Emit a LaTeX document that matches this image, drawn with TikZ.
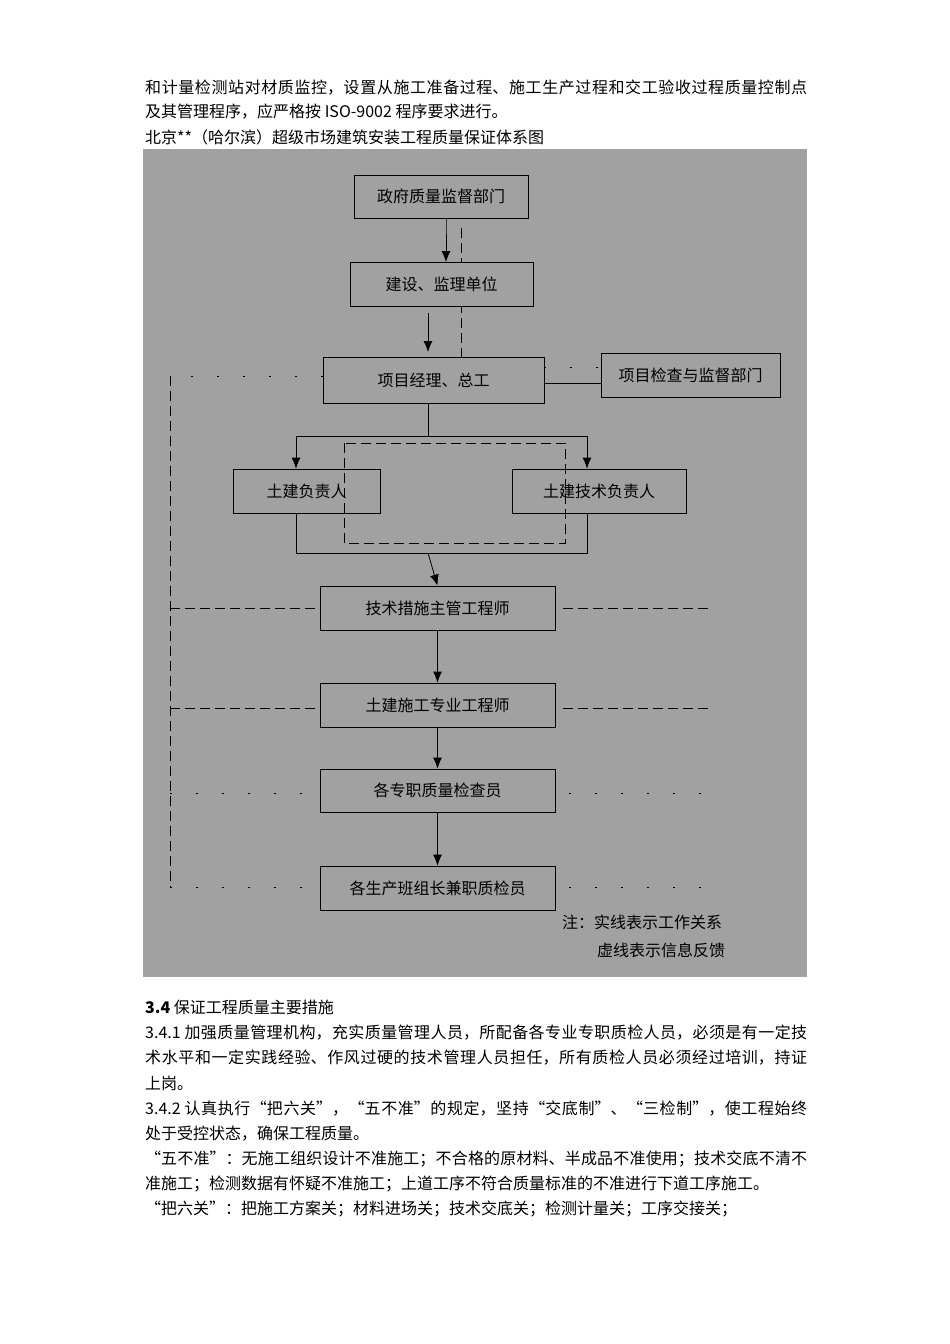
\documentclass[tikz,border=0pt]{standalone}
\usepackage{fontspec}
\setmainfont{Noto Sans CJK SC}
\usetikzlibrary{arrows.meta}
\XeTeXlinebreaklocale "zh"
\XeTeXlinebreakskip=0pt plus 3pt
\newcommand{\fullline}[1]{\parbox{662pt}{\parfillskip=0pt\relax #1}}
\begin{document}
\begin{tikzpicture}[x=1pt,y=-1pt,every node/.style={inner sep=0pt},
  txt/.style={anchor=west,font=\fontsize{16}{18}\selectfont},
  box/.style={draw,thick,fill=black!37,font=\fontsize{16}{18}\selectfont},
  work/.style={thick,-{Latex[length=11pt,width=9pt]}},
  fb/.style={thin,dash pattern=on 10pt off 5pt},
  fbsparse/.style={thin,dash pattern=on 2pt off 24pt}]

\useasboundingbox[fill=white] (0,0) rectangle (950,1344);

%%% text above
\node[txt] (t1) at (145,88) {\fullline{和计量检测站对材质监控，设置从施工准备过程、施工生产过程和交工验收过程质量控制点}};
\node[txt] (t2) at (145,112) {及其管理程序，应严格按 ISO-9002 程序要求进行。};
\node[txt] (t3) at (145,137) {北京**（哈尔滨）超级市场建筑安装工程质量保证体系图};

%%% diagram
\fill[black!37] (143,149) rectangle (807,977);

\draw[fb] (461,228) -- (461,357);

\node[box,minimum width=174,minimum height=43] (gov) at (441,196.5) {政府质量监督部门};
\node[box,minimum width=183,minimum height=44] (jl) at (441.5,284) {建设、监理单位};
\node[box,minimum width=221,minimum height=46] (pm) at (433.5,380) {项目经理、总工};
\node[box,minimum width=179,minimum height=44] (chk) at (690.5,375) {项目检查与监督部门};
\node[box,minimum width=147,minimum height=44] (tjl) at (306.5,491) {土建负责人};
\node[box,minimum width=174,minimum height=44] (tjr) at (599,491) {土建技术负责人};
\node[box,minimum width=235,minimum height=44] (js) at (437.5,608) {技术措施主管工程师};
\node[box,minimum width=235,minimum height=44] (sg) at (437.5,705) {土建施工专业工程师};
\node[box,minimum width=235,minimum height=43] (zj) at (437.5,790.5) {各专职质量检查员};
\node[box,minimum width=235,minimum height=44] (bz) at (437.5,888) {各生产班组长兼职质检员};

\coordinate (split) at (428,436);
\coordinate (join) at (428,553);

% work lines
\draw[work] (446,228) -- (gov.south -| 446,0) -- (446,262);
\draw[work] (428,313) -- (428,352);
\draw[thick] (pm.south -| split) -- (split);
\draw[work] (split) -- (296,436) -- (tjl.north -| 296,0);
\draw[work] (split) -- (587,436) -- (tjr.north -| 587,0);
\draw[thick] (tjl.south -| 296,0) -- (296,553) -- (587,553) -- (tjr.south -| 587,0);
\draw[work] (join) -- (js.north);
\draw[work] (js) -- (sg);
\draw[work] (sg) -- (zj);
\draw[work] (zj) -- (bz);
\draw[thick] (pm.east |- 0,383) -- (chk.west |- 0,383);

% feedback lines
\draw[fbsparse] (pm.east |- 0,367) -- (chk.west |- 0,367);
\draw[fb] (344,443) rectangle (565,543);
\draw[fbsparse] (pm.west |- 0,376) -- (170,376);
\draw[fb] (170,376) -- (170,887);
\draw[fb] (170,608) -- (js.west);
\draw[fb] (170,708) -- (sg.west |- 0,708);
\draw[fbsparse] (170,793) -- (zj.west |- 0,793);
\draw[fbsparse] (170,887) -- (bz.west |- 0,887);
\draw[fb] (js.east) ++(8,0) -- (710,608);
\draw[fb] (sg.east |- 0,708) ++(8,0) -- (710,708);
\draw[fbsparse] (zj.east |- 0,793) ++(14,0) -- (710,793);
\draw[fbsparse] (bz.east |- 0,887) ++(14,0) -- (710,887);

\node[txt] (note1) at (562,922) {注：实线表示工作关系};
\node[txt] (note2) at (597,950) {虚线表示信息反馈};

%%% text below
\node[txt] (h34) at (145,1007) {\textbf{3.4} 保证工程质量主要措施};
\node[txt] (p1) at (145,1033) {\fullline{3.4.1 加强质量管理机构，充实质量管理人员，所配备各专业专职质检人员，必须是有一定技}};
\node[txt] (p2) at (145,1058) {\fullline{术水平和一定实践经验、作风过硬的技术管理人员担任，所有质检人员必须经过培训，持证}};
\node[txt] (p3) at (145,1083) {上岗。};
\node[txt] (p4) at (145,1109) {\fullline{3.4.2 认真执行“把六关”，“五不准”的规定，坚持“交底制”、“三检制”，使工程始终}};
\node[txt] (p5) at (145,1134) {处于受控状态，确保工程质量。};
\node[txt] (p6) at (145,1159) {\fullline{“五不准”：无施工组织设计不准施工；不合格的原材料、半成品不准使用；技术交底不清不}};
\node[txt] (p7) at (145,1184) {准施工；检测数据有怀疑不准施工；上道工序不符合质量标准的不准进行下道工序施工。};
\node[txt] (p8) at (145,1209) {“把六关”：把施工方案关；材料进场关；技术交底关；检测计量关；工序交接关；};

\end{tikzpicture}
\end{document}
